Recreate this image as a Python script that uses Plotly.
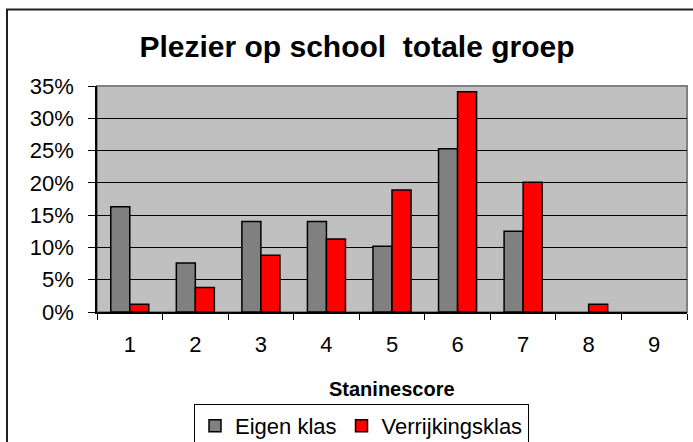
import plotly.graph_objects as go

# staninescores en percentages
categories = ["1", "2", "3", "4", "5", "6", "7", "8", "9"]
eigen_klas = [0.163, 0.076, 0.140, 0.140, 0.102, 0.253, 0.125, 0.0, 0.0]
verrijkingsklas = [0.012, 0.038, 0.088, 0.113, 0.189, 0.341, 0.201, 0.012, 0.0]

fnt = "Liberation Sans, Arial, sans-serif"


def outline(vals):
    # no outline for empty bars, like in the original
    return [1.5 if v > 0 else 0 for v in vals]


fig = go.Figure()
fig.add_trace(go.Bar(x=categories, y=eigen_klas, name="Eigen klas",
                     marker=dict(color="#808080", line=dict(color="black", width=outline(eigen_klas)))))
fig.add_trace(go.Bar(x=categories, y=verrijkingsklas, name="Verrijkingsklas",
                     marker=dict(color="#FF0000", line=dict(color="black", width=outline(verrijkingsklas)))))

fig.update_layout(
    width=693, height=442,
    margin=dict(l=97, r=6, t=86, b=130, autoexpand=False),
    paper_bgcolor="white", plot_bgcolor="#C0C0C0",
    font=dict(family=fnt, size=22, color="black"),
    title=dict(text="<b>Plezier op school  totale groep</b>", x=357 / 693, xanchor="center",
               y=1 - 46 / 442, yanchor="middle", font=dict(size=30)),
    barmode="group", bargap=0.42, bargroupgap=0,
    legend=dict(orientation="h", x=(194 - 97) / 590, xanchor="left",
                y=(312 - 404) / 226, yanchor="top", bordercolor="black", borderwidth=1,
                bgcolor="white", font=dict(size=22), itemwidth=30, tracegroupgap=0),
    showlegend=True,
)
fig.update_xaxes(type="category", showgrid=False, ticks="outside", tickson="boundaries",
                 ticklen=6, tickcolor="black", showline=True, linecolor="black", linewidth=1.5,
                 ticklabelstandoff=12, tickfont=dict(size=22))
fig.update_yaxes(range=[0, 0.35], dtick=0.05, tickformat=".0%", showgrid=True,
                 gridcolor="black", gridwidth=1, ticks="outside", ticklen=7, tickcolor="black",
                 showline=True, linecolor="black", linewidth=1.5, zeroline=False,
                 ticklabelstandoff=10, tickfont=dict(size=22))

# gray border around plot area
fig.add_shape(type="rect", xref="paper", yref="paper", x0=0, y0=0, x1=1, y1=1,
              line=dict(color="#808080", width=2), layer="below")
# outer chart frame (right and bottom fall outside the picture)
fig.add_shape(type="rect", xref="paper", yref="paper",
              x0=(7 - 97) / 590, x1=1.03, y0=-0.62, y1=(312 - 9.5) / 226,
              line=dict(color="#202020", width=2))

fig.add_annotation(text="<b>Staninescore</b>", xref="paper", yref="paper",
                   x=0.5, y=(312 - 389) / 226, showarrow=False,
                   font=dict(size=20), xanchor="center", yanchor="middle")

fig.write_html("out.html", config={"displayModeBar": False},
               post_script="document.body.style.margin='0px';document.body.style.overflow='hidden';")
